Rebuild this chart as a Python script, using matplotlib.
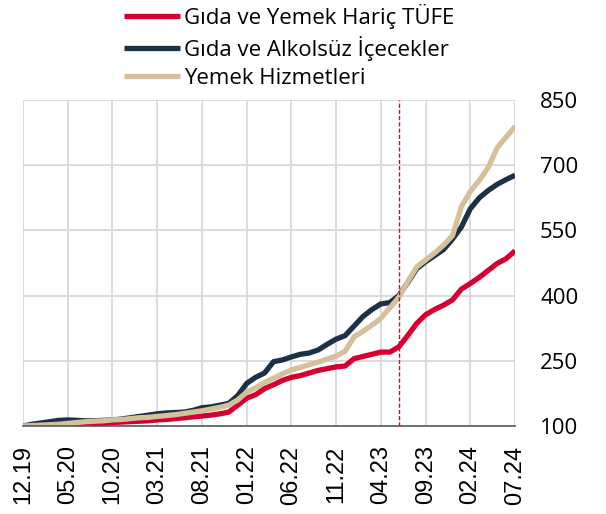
import numpy as np
import matplotlib
matplotlib.use('Agg')
import matplotlib.pyplot as plt

# Monthly index values, 12.2019 = 100
months = ['12.19', '01.20', '02.20', '03.20', '04.20', '05.20', '06.20', '07.20', '08.20', '09.20',
          '10.20', '11.20', '12.20', '01.21', '02.21', '03.21', '04.21', '05.21', '06.21', '07.21',
          '08.21', '09.21', '10.21', '11.21', '12.21', '01.22', '02.22', '03.22', '04.22', '05.22',
          '06.22', '07.22', '08.22', '09.22', '10.22', '11.22', '12.22', '01.23', '02.23', '03.23',
          '04.23', '05.23', '06.23', '07.23', '08.23', '09.23', '10.23', '11.23', '12.23', '01.24',
          '02.24', '03.24', '04.24', '05.24', '06.24', '07.24']

core_cpi = [100, 100.5, 101, 101.5, 101.5, 102, 103, 104, 105, 106,
            108, 109, 110, 111, 112, 114, 115, 117, 119, 121,
            123, 125, 128, 132, 148, 164, 172, 186, 195, 205,
            212, 216, 222, 228, 232, 236, 238, 255, 260, 265,
            270, 270, 282, 308, 336, 356, 368, 378, 390, 415,
            428, 442, 458, 474, 485, 503]

food = [100, 104, 107, 110, 113, 114, 113, 112, 112, 113,
        114, 116, 119, 122, 125, 128, 130, 131, 132, 136,
        142, 144, 148, 152, 170, 198, 212, 222, 248, 252,
        259, 265, 268, 275, 288, 300, 308, 330, 352, 368,
        381, 384, 400, 430, 462, 478, 492, 506, 530, 558,
        600, 625, 642, 656, 667, 677]

restaurants = [100, 101, 102, 103, 104, 106, 108, 110, 111, 112,
               114, 115, 117, 119, 120, 122, 124, 126, 129, 132,
               135, 139, 143, 148, 160, 178, 188, 200, 210, 220,
               229, 235, 241, 247, 254, 261, 272, 305, 318, 332,
               348, 372, 396, 432, 466, 482, 498, 516, 538, 605,
               640, 665, 695, 740, 765, 789]

labels = ['Gıda ve Yemek Hariç TÜFE', 'Gıda ve Alkolsüz İçecekler', 'Yemek Hizmetleri']
colors = ['#D50032', '#1C3147', '#D6C09B']
marker_month = '06.23'

x = np.arange(len(months))

fig = plt.figure(figsize=(6.06, 5.14), dpi=100)
ax = fig.add_axes([0.038, 0.1712, 0.812, 0.6342])

for series, lab, col in zip([core_cpi, food, restaurants], labels, colors):
    ax.plot(x, series, color=col, lw=3.8, label=lab, solid_capstyle='butt')

ax.axvline(months.index(marker_month), color='#E8002B', lw=1.0, ls=(0, (3, 1.5)))

ax.set_xlim(0, len(months) - 1)
ax.set_ylim(100, 850)
ax.set_xticks(x[::5])
ax.set_xticklabels(months[::5], rotation=90, fontsize=17, family='Liberation Sans')
ax.set_yticks(np.arange(100, 851, 150))
ax.yaxis.tick_right()
for t in ax.get_yticklabels():
    t.set_family('Open Sans')
    t.set_fontsize(16)
ax.tick_params(axis='both', length=0)
ax.tick_params(axis='y', pad=18)
ax.tick_params(axis='x', pad=14)

ax.grid(True, color='#D9D9D9', lw=1.3)
ax.set_axisbelow(True)
for s in ['top', 'right', 'left']:
    ax.spines[s].set_visible(False)
ax.spines['bottom'].set_color('#595959')
ax.spines['bottom'].set_linewidth(1.2)

fig.legend(loc='upper left', bbox_to_anchor=(0.19, 1.01), frameon=False,
           prop={'family': 'Open Sans', 'size': 16}, handlelength=2.5,
           handletextpad=0.2, labelspacing=0.32, borderaxespad=0)

fig.savefig('out.png', dpi=100)
